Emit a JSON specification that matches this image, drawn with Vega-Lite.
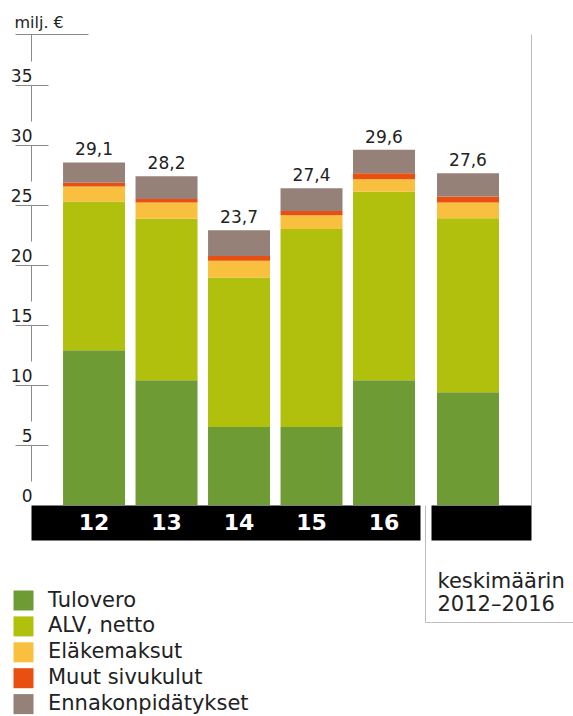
{
  "$schema": "https://vega.github.io/schema/vega-lite/v6.json",
  "padding": {"left": 10, "top": 14, "right": 0, "bottom": 0},
  "background": "#ffffff",
  "config": {
    "view": {"stroke": null},
    "font": "DejaVu Sans",
    "legend": {"padding": 0, "title": null, "symbolType": "square", "symbolSize": 400, "symbolStrokeWidth": 0, "labelFontSize": 21, "labelFont": "DejaVu Sans", "labelColor": "#222222", "rowPadding": 3.9, "labelOffset": 14, "symbolOpacity": 1, "labelLimit": 400}
  },
  "datasets": {
    "osat": [
      {"vuosi": "12", "laji": "Tulovero", "nro": 1, "arvo": 12.9},
      {"vuosi": "12", "laji": "ALV, netto", "nro": 2, "arvo": 12.4},
      {"vuosi": "12", "laji": "Eläkemaksut", "nro": 3, "arvo": 1.25},
      {"vuosi": "12", "laji": "Muut sivukulut", "nro": 4, "arvo": 0.3},
      {"vuosi": "12", "laji": "Ennakonpidätykset", "nro": 5, "arvo": 1.7},
      {"vuosi": "13", "laji": "Tulovero", "nro": 1, "arvo": 10.4},
      {"vuosi": "13", "laji": "ALV, netto", "nro": 2, "arvo": 13.45},
      {"vuosi": "13", "laji": "Eläkemaksut", "nro": 3, "arvo": 1.35},
      {"vuosi": "13", "laji": "Muut sivukulut", "nro": 4, "arvo": 0.3},
      {"vuosi": "13", "laji": "Ennakonpidätykset", "nro": 5, "arvo": 1.9},
      {"vuosi": "14", "laji": "Tulovero", "nro": 1, "arvo": 6.5},
      {"vuosi": "14", "laji": "ALV, netto", "nro": 2, "arvo": 12.45},
      {"vuosi": "14", "laji": "Eläkemaksut", "nro": 3, "arvo": 1.4},
      {"vuosi": "14", "laji": "Muut sivukulut", "nro": 4, "arvo": 0.4},
      {"vuosi": "14", "laji": "Ennakonpidätykset", "nro": 5, "arvo": 2.15},
      {"vuosi": "15", "laji": "Tulovero", "nro": 1, "arvo": 6.5},
      {"vuosi": "15", "laji": "ALV, netto", "nro": 2, "arvo": 16.5},
      {"vuosi": "15", "laji": "Eläkemaksut", "nro": 3, "arvo": 1.15},
      {"vuosi": "15", "laji": "Muut sivukulut", "nro": 4, "arvo": 0.35},
      {"vuosi": "15", "laji": "Ennakonpidätykset", "nro": 5, "arvo": 1.9},
      {"vuosi": "16", "laji": "Tulovero", "nro": 1, "arvo": 10.4},
      {"vuosi": "16", "laji": "ALV, netto", "nro": 2, "arvo": 15.7},
      {"vuosi": "16", "laji": "Eläkemaksut", "nro": 3, "arvo": 1.05},
      {"vuosi": "16", "laji": "Muut sivukulut", "nro": 4, "arvo": 0.5},
      {"vuosi": "16", "laji": "Ennakonpidätykset", "nro": 5, "arvo": 1.95},
      {"vuosi": "2012–2016", "laji": "Tulovero", "nro": 1, "arvo": 9.4},
      {"vuosi": "2012–2016", "laji": "ALV, netto", "nro": 2, "arvo": 14.5},
      {"vuosi": "2012–2016", "laji": "Eläkemaksut", "nro": 3, "arvo": 1.3},
      {"vuosi": "2012–2016", "laji": "Muut sivukulut", "nro": 4, "arvo": 0.5},
      {"vuosi": "2012–2016", "laji": "Ennakonpidätykset", "nro": 5, "arvo": 1.95}
    ],
    "summat": [
      {"vuosi": "12", "teksti": "29,1"},
      {"vuosi": "13", "teksti": "28,2"},
      {"vuosi": "14", "teksti": "23,7"},
      {"vuosi": "15", "teksti": "27,4"},
      {"vuosi": "16", "teksti": "29,6"},
      {"vuosi": "2012–2016", "teksti": "27,6"}
    ]
  },
  "hconcat": [
    {
      "width": 389,
      "height": 471,
      "resolve": {"axis": {"x": "independent", "y": "independent"}},
      "layer": [
        {
          "data": {"name": "osat"},
          "transform": [{"filter": "datum.vuosi != '2012–2016'"}],
          "mark": {"type": "bar"},
          "encoding": {
            "x": {"field": "vuosi", "type": "nominal", "sort": null,
              "scale": {"paddingInner": 0.145, "paddingOuter": 0.2555, "align": 0.865},
              "axis": {"orient": "bottom", "offset": 17.5, "zindex": 0, "domain": true, "domainColor": "#000000", "domainWidth": 35, "ticks": false, "tickSize": 0, "labels": false, "title": null, "grid": false}},
            "y": {"field": "arvo", "type": "quantitative", "stack": "zero",
              "scale": {"domain": [0, 39.25], "nice": false, "zero": true},
              "axis": {"orient": "left", "offset": 0, "values": [0, 5, 10, 15, 20, 25, 30, 35], "ticks": false, "tickSize": 0, "grid": false, "domain": true, "domainColor": "#8a8a8a", "domainWidth": 1, "domainDash": [36, 24], "domainDashOffset": 36, "labelAlign": "right", "labelBaseline": "bottom", "labelPadding": -1, "labelFont": "DejaVu Sans", "labelFontSize": 17, "labelColor": "#222222", "labelOverlap": false, "title": null}},
            "order": {"field": "nro", "type": "quantitative", "sort": "ascending"},
            "color": {"field": "laji", "type": "nominal",
              "sort": ["Tulovero", "ALV, netto", "Eläkemaksut", "Muut sivukulut", "Ennakonpidätykset"],
              "scale": {"domain": ["Tulovero", "ALV, netto", "Eläkemaksut", "Muut sivukulut", "Ennakonpidätykset"], "range": ["#6f9b34", "#b1bf0d", "#f9c03f", "#e84f10", "#958177"]},
              "legend": {"orient": "none", "legendX": -18, "legendY": 556}}
          }
        },
        {
          "data": {"name": "osat"},
          "transform": [
            {"filter": "datum.vuosi != '2012–2016'"},
            {"aggregate": [{"op": "sum", "field": "arvo", "as": "yla"}], "groupby": ["vuosi"]},
            {"lookup": "vuosi", "from": {"data": {"name": "summat"}, "key": "vuosi", "fields": ["teksti"]}}
          ],
          "mark": {"type": "text", "dy": -7, "baseline": "alphabetic", "align": "center", "font": "DejaVu Sans", "fontSize": 17, "color": "#222222"},
          "encoding": {
            "x": {"field": "vuosi", "type": "nominal", "sort": null,
              "axis": {"orient": "bottom", "offset": 17.5, "zindex": 2, "domain": false, "ticks": false, "tickSize": 0, "labelColor": "#ffffff", "labelFont": "DejaVu Sans", "labelFontSize": 22, "labelFontWeight": "bold", "labelPadding": 0, "labelBaseline": "middle", "labelAngle": 0, "title": null, "grid": false}},
            "y": {"field": "yla", "type": "quantitative",
              "scale": {"domain": [0, 39.25], "nice": false, "zero": true},
              "axis": {"orient": "left", "offset": -17, "values": [5, 10, 15, 20, 25, 30, 35], "ticks": true, "tickSize": 33, "tickColor": "#8a8a8a", "tickWidth": 1, "domain": false, "labels": false, "grid": false, "title": null}},
            "text": {"field": "teksti", "type": "nominal"}
          }
        },
        {
          "data": {"values": []},
          "mark": {"type": "point"},
          "encoding": {
            "y": {"field": "arvo", "type": "quantitative",
              "scale": {"domain": [0, 39.25], "nice": false, "zero": true},
              "axis": {"orient": "left", "offset": -57, "values": [39.25], "ticks": true, "tickSize": 73, "tickColor": "#8a8a8a", "tickWidth": 1, "domain": false, "labels": false, "grid": false,
                "title": "milj. €", "titleAngle": 0, "titleAlign": "left", "titleBaseline": "alphabetic", "titleX": -74, "titleY": -7, "titleFont": "DejaVu Sans", "titleFontSize": 16, "titleFontWeight": "normal", "titleColor": "#222222"}}
          }
        }
      ]
    },
    {
      "vconcat": [
        {
          "width": 100,
          "height": 471,
          "resolve": {"axis": {"y": "independent"}},
          "layer": [
            {
              "data": {"name": "osat"},
              "transform": [{"filter": "datum.vuosi == '2012–2016'"}],
              "mark": {"type": "bar"},
              "encoding": {
                "x": {"field": "vuosi", "type": "nominal",
                  "scale": {"paddingInner": 0, "paddingOuter": 0.3065, "align": 0.158},
                  "axis": {"orient": "bottom", "offset": 17.5, "domain": true, "domainColor": "#000000", "domainWidth": 35, "ticks": false, "tickSize": 0, "labels": false, "title": null, "grid": false}},
                "y": {"field": "arvo", "type": "quantitative", "stack": "zero",
                  "scale": {"domain": [0, 39.25], "nice": false, "zero": true}, "axis": null},
                "order": {"field": "nro", "type": "quantitative", "sort": "ascending"},
                "color": {"field": "laji", "type": "nominal",
                  "sort": ["Tulovero", "ALV, netto", "Eläkemaksut", "Muut sivukulut", "Ennakonpidätykset"],
                  "scale": {"domain": ["Tulovero", "ALV, netto", "Eläkemaksut", "Muut sivukulut", "Ennakonpidätykset"], "range": ["#6f9b34", "#b1bf0d", "#f9c03f", "#e84f10", "#958177"]},
                  "legend": {"orient": "none", "legendX": -18, "legendY": 556}}
              }
            },
            {
              "data": {"name": "osat"},
              "transform": [
                {"filter": "datum.vuosi == '2012–2016'"},
                {"aggregate": [{"op": "sum", "field": "arvo", "as": "yla"}], "groupby": ["vuosi"]},
                {"lookup": "vuosi", "from": {"data": {"name": "summat"}, "key": "vuosi", "fields": ["teksti"]}}
              ],
              "mark": {"type": "text", "dy": -7, "baseline": "alphabetic", "align": "center", "font": "DejaVu Sans", "fontSize": 17, "color": "#222222"},
              "encoding": {
                "x": {"field": "vuosi", "type": "nominal"},
                "y": {"field": "yla", "type": "quantitative",
                  "scale": {"domain": [0, 39.25], "nice": false, "zero": true},
                  "axis": {"orient": "right", "domain": true, "domainColor": "#bdbdbd", "domainWidth": 1, "ticks": false, "labels": false, "grid": false, "title": null}},
                "text": {"field": "teksti", "type": "nominal"}
              }
            }
          ]
        },
        {
          "width": 142,
          "height": 117,
          "data": {"values": []},
          "mark": {"type": "point"},
          "encoding": {
            "x": {"field": "a", "type": "quantitative", "scale": {"domain": [0, 1]},
              "axis": {"orient": "bottom", "domain": true, "domainColor": "#bdbdbd", "domainWidth": 1, "ticks": false, "labels": false, "grid": false,
                "title": ["keskimäärin", "2012–2016"], "titleAnchor": "start", "titleAlign": "left", "titleBaseline": "alphabetic", "titleX": 6, "titleY": -35, "titleFont": "DejaVu Sans", "titleFontSize": 21, "titleFontWeight": "normal", "titleColor": "#222222", "titleLineHeight": 23}},
            "y": {"field": "b", "type": "quantitative", "scale": {"domain": [0, 1]},
              "axis": {"orient": "left", "offset": 6, "domain": true, "domainColor": "#bdbdbd", "domainWidth": 1, "values": [0], "ticks": true, "tickSize": -6, "tickColor": "#bdbdbd", "tickWidth": 1, "labels": false, "grid": false, "title": null}}
          }
        }
      ],
      "spacing": 0,
      "bounds": "flush"
    }
  ],
  "spacing": 11,
  "bounds": "flush"
}
